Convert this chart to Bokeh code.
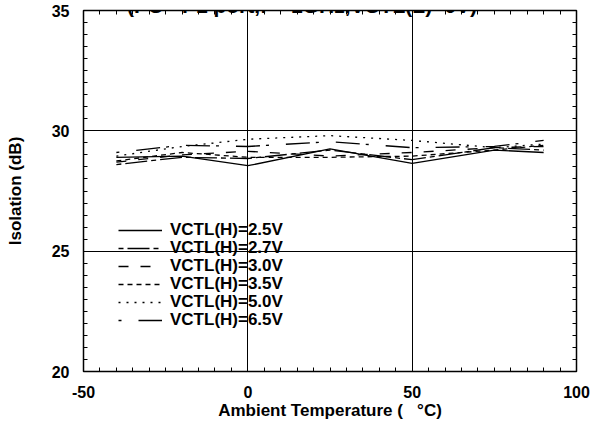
from bokeh.plotting import figure
from bokeh.models import (SingleIntervalTicker, LinearAxis, Legend, LegendItem, Label, Range1d)
from bokeh.embed import file_html
from bokeh.resources import INLINE

temps = [-40, -20, 0, 25, 50, 75, 90]
v25 = [28.9, 28.95, 28.55, 29.25, 28.65, 29.2, 29.1]
v27 = [28.6, 28.9, 28.85, 29.2, 28.8, 29.3, 29.2]
v30 = [28.7, 29.0, 29.15, 28.95, 29.1, 29.3, 29.35]
v35 = [28.75, 29.1, 28.9, 28.9, 28.95, 29.2, 29.4]
v50 = [28.95, 29.35, 29.65, 29.8, 29.6, 29.3, 29.45]
v65 = [29.1, 29.4, 29.35, 29.55, 29.3, 29.35, 29.6]
labels = ["VCTL(H)=2.5V", "VCTL(H)=2.7V", "VCTL(H)=3.0V",
          "VCTL(H)=3.5V", "VCTL(H)=5.0V", "VCTL(H)=6.5V"]
series = [v25, v27, v30, v35, v50, v65]
dashes = ["solid", "5 4 22 4", "10 12", "5 4", "2 6", "3 17 24 6"]
x_tick_labels = {-50: "-50", 0: "0", 50: "50", 100: "100"}
title_text = "(PC - P1 port,f = 1GHz,VCTL(L)=0V)"

FONT = "Liberation Sans"

p = figure(width=590, height=423, output_backend="svg", toolbar_location=None,
           x_range=Range1d(-50, 100), y_range=Range1d(20, 35),
           min_border_left=83, min_border_right=14, min_border_top=10, min_border_bottom=52)
p.outline_line_color = "black"
p.outline_line_width = 1.5
p.background_fill_color = "white"
p.border_fill_color = "white"

xt = SingleIntervalTicker(interval=50, num_minor_ticks=10)
yt = SingleIntervalTicker(interval=5, num_minor_ticks=10)

for ax in [p.xaxis[0], p.yaxis[0]]:
    ax.major_tick_in = 0
    ax.major_tick_out = 0
    ax.minor_tick_in = 4
    ax.minor_tick_out = 0
    ax.axis_line_color = "black"
    ax.minor_tick_line_color = "black"
    ax.major_label_text_font = FONT
    ax.major_label_text_font_style = "bold"
    ax.major_label_text_font_size = "16px"
    ax.major_label_text_color = "black"
    ax.axis_label_text_font = FONT
    ax.axis_label_text_font_style = "bold"
    ax.axis_label_text_font_size = "17px"
    ax.axis_label_text_color = "black"
p.xaxis[0].ticker = xt
p.yaxis[0].ticker = yt
p.xaxis[0].major_label_overrides = x_tick_labels
p.xaxis[0].axis_label = "Ambient Temperature (\u00a0\u00a0\u00a0\u00b0C)"
p.yaxis[0].axis_label = "Isolation (dB)"
p.xaxis[0].major_label_standoff = 14
p.yaxis[0].major_label_standoff = 14
p.xaxis[0].axis_label_standoff = 0
p.yaxis[0].axis_label_standoff = 24

for loc, t in [("right", yt), ("above", xt)]:
    ax = LinearAxis(ticker=t)
    ax.major_label_text_font_size = "0px"
    ax.major_tick_in = 0
    ax.major_tick_out = 0
    ax.minor_tick_in = 4
    ax.minor_tick_out = 0
    ax.axis_line_color = "black"
    ax.minor_tick_line_color = "black"
    ax.major_label_standoff = 0
    p.add_layout(ax, loc)

p.xgrid.ticker = xt
p.ygrid.ticker = yt
p.grid.grid_line_color = "black"
p.grid.grid_line_alpha = 1.0
p.grid.grid_line_width = 1

items = []
for lab, ys, d in zip(labels, series, dashes):
    r = p.line(temps, ys, line_color="black", line_width=1.3, line_dash=d)
    items.append(LegendItem(label=lab, renderers=[r]))

# two interleaved legends so that rows sit 18px apart, as in the reference
for sub, loc in [(items[0::2], (35, 59)), (items[1::2], (35, 41))]:
    leg = Legend(items=sub, location=loc, glyph_width=44, glyph_height=18,
                 label_height=18, spacing=16, padding=0, margin=0,
                 label_standoff=8, background_fill_alpha=0, border_line_alpha=0,
                 label_text_font=FONT, label_text_font_style="bold",
                 label_text_font_size="17px", label_text_color="black")
    p.add_layout(leg)

p.add_layout(Label(x=16.5, y=35.2, text=title_text, text_align="center",
                   text_baseline="alphabetic", text_font=FONT, text_color="black",
                   text_font_style="bold", text_font_size="21px"))

open("out.html", "w").write(file_html(p, INLINE))
